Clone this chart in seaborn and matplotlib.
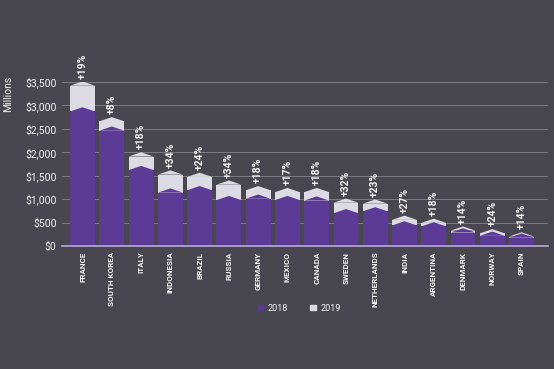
import seaborn as sns
import matplotlib.pyplot as plt
from matplotlib.patches import Patch

countries = ["FRANCE", "SOUTH KOREA", "ITALY", "INDONESIA", "BRAZIL", "RUSSIA",
             "GERMANY", "MEXICO", "CANADA", "SWEDEN", "NETHERLANDS", "INDIA",
             "ARGENTINA", "DENMARK", "NORWAY", "SPAIN"]
vals_2018 = [2870, 2460, 1620, 1140, 1190, 980, 1010, 980, 970, 700, 740, 440, 420, 290, 220, 180]
vals_2019 = [3420, 2660, 1910, 1525, 1475, 1310, 1190, 1150, 1150, 925, 905, 560, 495, 330, 272, 205]
growth = ["+19%", "+8%", "+18%", "+34%", "+24%", "+34%", "+18%", "+17%", "+18%",
          "+32%", "+23%", "+27%", "+18%", "+14%", "+24%", "+14%"]
yticks = [0, 500, 1000, 1500, 2000, 2500, 3000, 3500]

bg = "#48474f"
purple = "#5c3b97"
light = "#dcdae2"
txt = "#f2f2f2"

sns.set_style("white")
plt.rcParams["font.family"] = ["Roboto", "DejaVu Sans"]

fig = plt.figure(figsize=(5.54, 3.69), dpi=100, facecolor=bg)
ax = fig.add_axes([0.112, 0.333, 0.877, 0.445])
ax.set_facecolor(bg)

ax.set_yticks(yticks)
ax.grid(axis="y", color="#7d7c84", linewidth=0.7, zorder=0)
ax.set_axisbelow(True)

peak = 90  # height of the chevron tip in data units


def add_chevrons(bars, color, z):
    for p in bars:
        p.set_zorder(z)
        x0 = p.get_x()
        w = p.get_width()
        top = p.get_y() + p.get_height()
        ax.fill([x0, x0 + w / 2, x0 + w], [top, top + peak, top], color=color,
                linewidth=0, zorder=z)


sns.barplot(x=countries, y=vals_2019, color=light, saturation=1, width=0.85,
            linewidth=0, edgecolor="none", ax=ax)
sns.barplot(x=countries, y=vals_2018, color=purple, saturation=1, width=0.85,
            linewidth=0, edgecolor="none", ax=ax)
add_chevrons(ax.containers[0], light, 2)
add_chevrons(ax.containers[1], purple, 4)

for i, (v, g) in enumerate(zip(vals_2019, growth)):
    ax.text(i, v + peak + 60, g, rotation=90, ha="center", va="bottom", color=txt,
            fontsize=7.5, fontweight="bold", clip_on=False)

ax.set_xlim(-0.7, 15.9)
ax.set_ylim(0, 3500)
ax.set_yticklabels([f"${v:,}" for v in yticks], color=txt, fontsize=7.5)
ax.set_xticks(range(len(countries)))
ax.set_xticklabels(countries, rotation=90, color=txt, fontsize=5.8, fontweight="bold")
ax.tick_params(axis="both", length=0, pad=4)
ax.set_ylabel("Millions", color=txt, fontsize=7.5)
ax.yaxis.set_label_coords(-0.1, 0.93)

for s in ["top", "right", "left"]:
    ax.spines[s].set_visible(False)
ax.spines["bottom"].set_color("#b9a9d9")
ax.spines["bottom"].set_linewidth(1.2)
ax.spines["bottom"].set_zorder(6)

handles = [Patch(color=purple, label="2018"), Patch(color=light, label="2019")]
fig.legend(handles=handles, loc="center", bbox_to_anchor=(0.54, 0.165), ncol=2,
           frameon=False, fontsize=6.5, labelcolor=txt, handlelength=0.6,
           handleheight=0.6, columnspacing=2.5, handletextpad=0.5)

fig.savefig("out.png", dpi=100, facecolor=bg)
